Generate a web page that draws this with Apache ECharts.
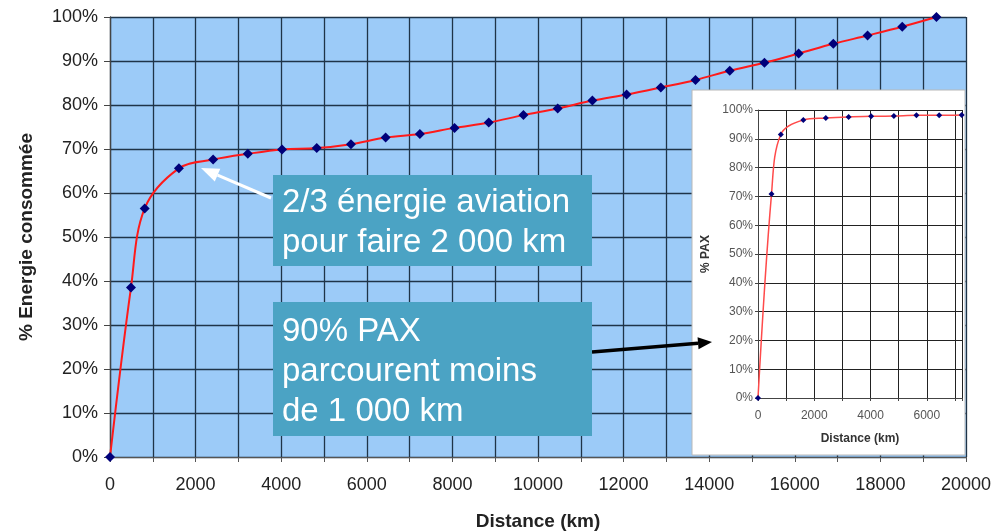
<!DOCTYPE html>
<html>
<head>
<meta charset="utf-8">
<script src="https://cdn.jsdelivr.net/npm/echarts@6/dist/echarts.min.js"></script>
<style>
  html, body { margin: 0; padding: 0; background: #fff; }
  #chart { width: 999px; height: 532px; }
</style>
</head>
<body>
<div id="chart"></div>
<script>
// Cumulative share of aviation energy by trip distance (km, %)
const distanceKm = [0, 490, 810, 1610, 2410, 3220, 4020, 4830, 5630, 6440, 7240, 8050, 8850,
  9660, 10460, 11270, 12070, 12870, 13680, 14480, 15290, 16090, 16900, 17700, 18510, 19310];
const energyPct = [0, 38.5, 56.5, 65.6, 67.6, 68.9, 69.9, 70.2, 71.1, 72.6, 73.4, 74.8, 76.0,
  77.7, 79.2, 81.0, 82.4, 84.0, 85.7, 87.8, 89.6, 91.7, 93.9, 95.8, 97.8, 100];

// Cumulative share of passengers by trip distance (inset)
const paxDistanceKm = [0, 480, 810, 1610, 2410, 3220, 4020, 4830, 5630, 6440, 7240];
const paxPct = [0, 70.8, 91.5, 96.5, 97.2, 97.6, 97.8, 97.9, 98.2, 98.2, 98.3];

const yTicksPct = [0, 100, 10];        // min, max, step for both % axes
const mainXAxis = [0, 20000, 1000];    // min, max, grid step
const insetXAxis = [0, 7250, 1000];

const noteEnergy = ['2/3 énergie aviation', 'pour faire 2 000 km'];
const notePax = ['90% PAX', 'parcourent moins', 'de 1 000 km'];

const FONT = '"Liberation Sans", Arial, Helvetica, sans-serif';
const GRID_LINE = '#1f3448';
const BOX = '#4ba3c4';

const pair = (xs, ys) => xs.map((x, i) => [x, ys[i]]);
const evenThousands = v => (v % 2000 === 0 ? String(v) : '');

const chart = echarts.init(document.getElementById('chart'), null, { renderer: 'canvas' });

function noteTexts(lines, x, y0, step) {
  return lines.map((t, i) => ({
    type: 'text', z: 21, left: x, top: y0 + i * step,
    style: { text: t, fill: '#ffffff', font: '33px ' + FONT, textVerticalAlign: 'middle' }
  }));
}

function arrow(x1, y1, tipX, tipY, head, half, color, width, z) {
  const dx = tipX - x1, dy = tipY - y1;
  const len = Math.hypot(dx, dy);
  const ux = dx / len, uy = dy / len;
  const bx = tipX - ux * head, by = tipY - uy * head;
  const nx = -uy, ny = ux;
  return [
    { type: 'line', z, shape: { x1, y1, x2: bx, y2: by }, style: { stroke: color, lineWidth: width } },
    { type: 'polygon', z, shape: { points: [[tipX, tipY], [bx + nx * half, by + ny * half], [bx - nx * half, by - ny * half]] },
      style: { fill: color } }
  ];
}

const option = {
  animation: false,
  backgroundColor: '#ffffff',
  textStyle: { fontFamily: FONT },
  grid: [
    { left: 110, right: 33, top: 17, bottom: 75, show: true, backgroundColor: '#9ccbf8', borderWidth: 0,
      containLabel: false, outerBoundsMode: 'none' },
    { left: 758, right: 37, top: 110, bottom: 134, show: true, backgroundColor: '#ffffff', borderWidth: 0, z: 6,
      containLabel: false, outerBoundsMode: 'none' }
  ],
  xAxis: [
    {
      type: 'value', gridIndex: 0, min: mainXAxis[0], max: mainXAxis[1], interval: mainXAxis[2],
      name: 'Distance (km)', nameLocation: 'middle', nameGap: 55,
      nameTextStyle: { fontSize: 19, fontWeight: 'bold', color: '#222', fontFamily: FONT },
      axisLine: { show: true, lineStyle: { color: '#555', width: 1 } },
      axisTick: { show: true, length: 5, lineStyle: { color: '#555' } },
      axisLabel: { formatter: evenThousands, fontSize: 18, color: '#222', margin: 19, fontFamily: FONT },
      splitLine: { show: true, lineStyle: { color: GRID_LINE, width: 1.3 } }
    },
    {
      type: 'value', gridIndex: 1, min: insetXAxis[0], max: insetXAxis[1], interval: insetXAxis[2], z: 7,
      name: 'Distance (km)', nameLocation: 'middle', nameGap: 35,
      nameTextStyle: { fontSize: 12, fontWeight: 'bold', color: '#333', fontFamily: FONT },
      axisLine: { show: true, lineStyle: { color: '#444', width: 1 } },
      axisTick: { show: true, length: 3, lineStyle: { color: '#444' } },
      axisLabel: { formatter: evenThousands, fontSize: 12, color: '#555', margin: 12, fontFamily: FONT },
      splitLine: { show: true, lineStyle: { color: '#222', width: 1 } }
    }
  ],
  yAxis: [
    {
      type: 'value', gridIndex: 0, min: yTicksPct[0], max: yTicksPct[1], interval: yTicksPct[2],
      name: '% Energie consommée', nameLocation: 'middle', nameGap: 74, nameRotate: 90,
      nameTextStyle: { fontSize: 19, fontWeight: 'bold', color: '#222', fontFamily: FONT },
      axisLine: { show: true, lineStyle: { color: '#444', width: 1.3 } },
      axisTick: { show: true, length: 6, lineStyle: { color: '#444' } },
      axisLabel: { formatter: '{value}%', fontSize: 18, color: '#222', margin: 12, fontFamily: FONT },
      splitLine: { show: true, lineStyle: { color: GRID_LINE, width: 1.3 } }
    },
    {
      type: 'value', gridIndex: 1, min: yTicksPct[0], max: yTicksPct[1], interval: yTicksPct[2], z: 7,
      name: '% PAX', nameLocation: 'middle', nameGap: 46, nameRotate: 90,
      nameTextStyle: { fontSize: 12, fontWeight: 'bold', color: '#333', fontFamily: FONT },
      axisLine: { show: true, lineStyle: { color: '#444', width: 1 } },
      axisTick: { show: true, length: 3, lineStyle: { color: '#444' } },
      axisLabel: { formatter: '{value}%', fontSize: 12, color: '#555', margin: 5, fontFamily: FONT },
      splitLine: { show: true, lineStyle: { color: '#222', width: 1 } }
    }
  ],
  series: [
    {
      type: 'line', xAxisIndex: 0, yAxisIndex: 0, z: 3,
      data: pair(distanceKm, energyPct),
      smooth: 0.35,
      lineStyle: { color: '#ff1a1a', width: 2 },
      symbol: 'diamond', symbolSize: 10,
      itemStyle: { color: '#00007a' }
    },
    {
      type: 'line', xAxisIndex: 1, yAxisIndex: 1, z: 8,
      data: pair(paxDistanceKm, paxPct),
      smooth: 0.35,
      lineStyle: { color: '#ff4a4a', width: 1.5 },
      symbol: 'diamond', symbolSize: 6,
      itemStyle: { color: '#00007a' }
    }
  ],
  graphic: [
    // white panel holding the passenger inset
    { type: 'rect', z: 5, shape: { x: 692, y: 90, width: 273, height: 365 },
      style: { fill: '#ffffff', stroke: '#b8b8b8', lineWidth: 1 } },
    // annotation boxes
    { type: 'rect', z: 20, shape: { x: 273, y: 175, width: 319, height: 91 }, style: { fill: BOX } },
    { type: 'rect', z: 20, shape: { x: 273, y: 302, width: 319, height: 134 }, style: { fill: BOX } },
    ...noteTexts(noteEnergy, 282, 186, 40),
    ...noteTexts(notePax, 282, 315, 40),
    ...arrow(271, 198, 201, 168, 18, 7, '#ffffff', 3, 19),
    ...arrow(592, 352, 712, 342, 14, 6, '#000000', 3.5, 19)
  ]
};

chart.setOption(option);
</script>
</body>
</html>
